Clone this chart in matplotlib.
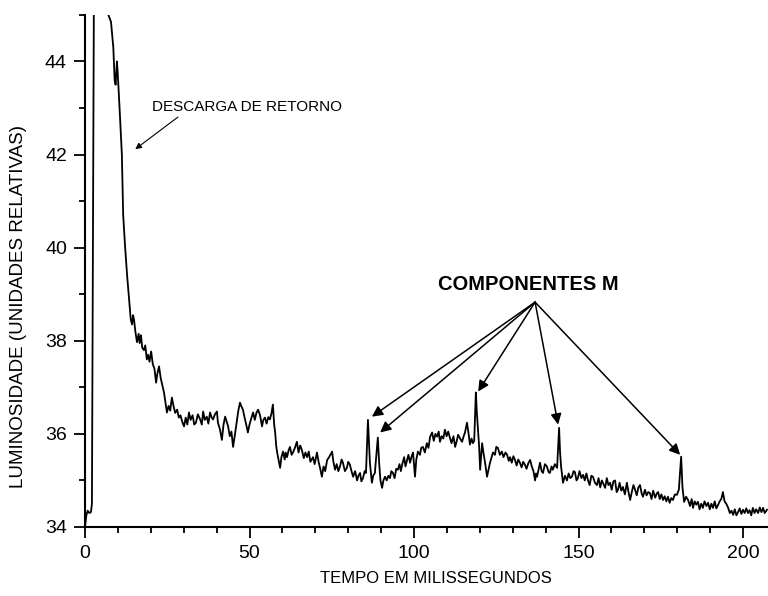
import numpy as np
import matplotlib.pyplot as plt
from matplotlib.ticker import MultipleLocator

plt.rcParams['font.family'] = ['Liberation Sans', 'DejaVu Sans']

# (tempo em ms, luminosidade) - subida e inicio do decaimento da descarga de retorno
subida = [(0.0, 34.0), (0.4, 34.25), (0.8, 34.35), (1.3, 34.3), (1.8, 34.32), (2.1, 34.5),
          (2.4, 40.0), (3.5, 60.0), (7.1, 45.0), (7.9, 44.85), (8.6, 44.3), (9.0, 43.6),
          (9.3, 43.5), (9.7, 44.0), (9.9, 43.8), (10.5, 43.0), (11.2, 42.0), (11.6, 40.7),
          (12.2, 40.0), (12.8, 39.4), (13.4, 38.9)]

decaimento = [(13.9, 38.46), (14.3, 38.35), (14.6, 38.55), (14.9, 38.45), (15.3, 38.2),
              (15.8, 37.97), (16.3, 38.15), (16.6, 37.95), (17.0, 38.12), (17.4, 37.85),
              (17.9, 37.8), (18.3, 37.9), (18.8, 37.6), (19.2, 37.7), (19.6, 37.55),
              (20.1, 37.77), (20.6, 37.5), (21.1, 37.4), (21.6, 37.1), (22.0, 37.3),
              (22.5, 37.45), (23.0, 37.2), (23.5, 37.05), (24.0, 36.89), (24.4, 36.7),
              (24.9, 36.46), (25.4, 36.6), (25.9, 36.5), (26.4, 36.78), (26.9, 36.6),
              (27.4, 36.45), (28.0, 36.52), (28.5, 36.35), (29.0, 36.4), (29.6, 36.25),
              (30.1, 36.16), (30.6, 36.35), (31.1, 36.2), (31.6, 36.46), (32.1, 36.3),
              (32.7, 36.4), (33.2, 36.2), (33.7, 36.24), (34.3, 36.42)]

patamar = [(35.0, 36.31), (35.5, 36.2), (35.9, 36.48), (36.4, 36.3), (37.0, 36.37),
           (37.5, 36.22), (38.0, 36.46), (38.5, 36.35), (38.9, 36.31), (39.5, 36.42),
           (40.1, 36.48), (40.4, 36.24), (41.0, 36.1), (41.6, 35.87), (42.1, 36.2),
           (42.6, 36.37), (43.1, 36.25), (43.5, 36.16), (44.0, 35.95), (44.5, 36.05),
           (45.0, 35.72), (45.6, 36.0), (46.2, 36.31), (46.6, 36.5), (47.1, 36.67),
           (47.6, 36.58), (48.0, 36.52), (48.5, 36.35), (49.0, 36.2), (49.5, 36.03),
           (50.0, 36.2), (50.6, 36.35), (51.1, 36.46), (51.6, 36.3), (52.1, 36.45),
           (52.6, 36.52), (53.2, 36.4), (53.8, 36.16), (54.2, 36.3), (54.7, 36.35),
           (55.2, 36.22), (55.7, 36.36), (56.2, 36.31), (56.7, 36.45), (57.1, 36.63),
           (57.5, 36.2), (57.8, 36.03), (58.1, 35.75), (58.4, 35.6), (58.8, 35.45),
           (59.3, 35.27), (59.7, 35.5), (60.2, 35.62), (60.7, 35.45), (61.0, 35.6),
           (61.4, 35.5), (61.9, 35.65), (62.3, 35.72), (62.8, 35.55), (63.2, 35.6),
           (63.8, 35.7), (64.4, 35.83), (64.9, 35.6), (65.4, 35.75), (65.9, 35.66),
           (66.5, 35.48), (67.0, 35.6), (67.5, 35.5), (68.0, 35.62), (68.5, 35.4)]

meio = [(69.3, 35.5), (69.8, 35.35), (70.5, 35.6), (71.0, 35.4), (71.5, 35.25), (72.0, 35.08),
        (72.5, 35.3), (73.0, 35.2), (73.6, 35.44), (74.2, 35.5), (75.1, 35.62), (75.5, 35.4),
        (76.0, 35.23), (76.5, 35.35), (77.0, 35.2), (77.5, 35.3), (78.0, 35.45), (78.4, 35.38),
        (79.0, 35.2), (79.6, 35.27), (80.0, 35.4), (80.5, 35.34), (81.0, 35.2), (81.5, 35.08),
        (82.1, 35.2), (82.7, 35.0), (83.1, 35.1), (83.6, 35.16), (84.0, 34.98), (84.5, 35.05),
        (85.0, 35.2), (85.4, 35.16), (86.0, 36.3), (86.6, 35.38), (87.2, 34.95), (87.6, 35.1),
        (88.1, 35.16), (89.0, 35.92), (89.4, 35.38), (89.8, 35.0), (90.3, 34.84), (90.7, 35.0),
        (91.2, 35.08), (91.7, 35.0), (92.2, 35.1), (92.7, 35.05), (93.1, 35.2), (93.6, 35.16),
        (94.1, 35.05), (94.6, 35.25), (95.1, 35.23), (95.6, 35.35), (96.0, 35.2), (96.4, 35.34),
        (97.0, 35.5), (97.4, 35.3), (97.9, 35.44), (98.3, 35.55), (98.8, 35.38), (99.2, 35.5),
        (99.7, 35.6), (100.3, 35.08), (100.7, 35.45), (101.2, 35.62), (101.8, 35.55),
        (102.2, 35.7), (102.7, 35.72), (103.3, 35.6), (103.9, 35.8), (104.4, 35.7),
        (104.9, 35.94), (105.5, 36.03), (106.0, 35.85), (106.5, 36.0), (107.0, 35.94),
        (107.5, 36.05), (107.9, 35.83), (108.4, 35.95), (108.9, 35.9), (109.4, 36.09),
        (109.9, 35.95), (110.4, 36.05), (110.9, 35.92), (111.4, 35.8), (112.0, 35.95),
        (112.5, 35.72), (113.0, 35.85), (113.4, 35.98), (114.0, 35.9), (114.6, 35.83),
        (115.1, 35.95), (115.5, 36.03), (116.1, 36.24), (116.6, 36.0), (117.0, 35.77),
        (117.5, 35.9), (117.9, 35.8), (118.3, 35.85)]

cauda = [(118.8, 36.89), (119.1, 36.46), (119.8, 35.72), (120.1, 35.23), (120.7, 35.8),
         (121.1, 35.6), (121.6, 35.38), (122.2, 35.08), (122.7, 35.25), (123.1, 35.38),
         (123.6, 35.5), (124.0, 35.6), (124.6, 35.55), (125.0, 35.72), (125.5, 35.7),
         (126.1, 35.55), (126.7, 35.62), (127.2, 35.5), (127.8, 35.6), (128.3, 35.55),
         (128.8, 35.42), (129.2, 35.5), (129.7, 35.38), (130.2, 35.52), (130.7, 35.44),
         (131.2, 35.32), (131.7, 35.45), (132.2, 35.38), (132.7, 35.28), (133.2, 35.4),
         (133.7, 35.34), (134.2, 35.25), (134.8, 35.38), (135.3, 35.44), (135.8, 35.3),
         (136.3, 35.2), (136.8, 35.0), (137.1, 35.15), (137.4, 35.08), (137.9, 35.25),
         (138.3, 35.38), (138.8, 35.2), (139.2, 35.16), (139.8, 35.35), (140.4, 35.3),
         (140.9, 35.18), (141.3, 35.16), (141.8, 35.3), (142.2, 35.23), (142.8, 35.35),
         (143.5, 35.27), (144.1, 36.13), (144.4, 35.6), (144.7, 35.3), (145.3, 34.95),
         (145.9, 35.1), (146.5, 35.0), (147.0, 35.15), (147.5, 35.05), (148.0, 35.08),
         (148.5, 35.2), (148.9, 35.18), (149.4, 35.0), (149.8, 35.05), (150.3, 35.2),
         (150.9, 35.05), (151.4, 35.12), (151.9, 35.0), (152.4, 35.15), (152.9, 35.0),
         (153.4, 34.9), (153.9, 35.1), (154.4, 35.08), (155.0, 34.95), (155.6, 34.9),
         (156.1, 35.05), (156.6, 34.85), (157.1, 35.0), (157.6, 34.92), (158.1, 34.84),
         (158.6, 35.05), (159.1, 34.9), (159.6, 34.95), (160.1, 34.8), (160.6, 34.98),
         (161.1, 35.0), (161.6, 34.75), (162.0, 34.8), (162.5, 34.95), (163.0, 34.78),
         (163.5, 34.86), (164.1, 34.7), (164.7, 34.95), (165.2, 34.75), (165.7, 34.58),
         (166.2, 34.75), (166.7, 34.9), (167.2, 34.8), (167.7, 34.68), (168.2, 34.85),
         (168.7, 34.9), (169.2, 34.72), (169.6, 34.65), (170.2, 34.8), (170.7, 34.68),
         (171.2, 34.75), (171.7, 34.73), (172.2, 34.6), (172.7, 34.78), (173.3, 34.63),
         (173.8, 34.72), (174.2, 34.75), (174.7, 34.6), (175.2, 34.7), (175.7, 34.58),
         (176.2, 34.66), (176.7, 34.55), (177.2, 34.65), (177.7, 34.52), (178.2, 34.62),
         (178.7, 34.58), (179.3, 34.7), (179.9, 34.69), (180.5, 34.8), (181.2, 35.51),
         (181.6, 34.85), (182.1, 34.54), (182.7, 34.65), (183.3, 34.58), (183.9, 34.45),
         (184.4, 34.6), (184.8, 34.41), (185.3, 34.55), (185.8, 34.48), (186.3, 34.54),
         (186.8, 34.38), (187.3, 34.5), (187.8, 34.41), (188.3, 34.55), (188.9, 34.45),
         (189.4, 34.52), (189.9, 34.38), (190.4, 34.5), (190.9, 34.41), (191.4, 34.55),
         (191.9, 34.4), (192.4, 34.47), (192.9, 34.55), (193.4, 34.6), (193.9, 34.75),
         (194.4, 34.55), (194.9, 34.5), (195.4, 34.43), (196.0, 34.3), (196.5, 34.35),
         (197.0, 34.26), (197.5, 34.38), (198.0, 34.25), (198.5, 34.32), (199.0, 34.4),
         (199.5, 34.28), (200.0, 34.37), (200.5, 34.3), (201.0, 34.4), (201.5, 34.3),
         (202.0, 34.36), (202.5, 34.25), (203.0, 34.41), (203.5, 34.3), (204.0, 34.38),
         (204.6, 34.3), (205.1, 34.42), (205.6, 34.32), (206.1, 34.41), (206.6, 34.3),
         (207.3, 34.37)]

pontos = np.array(subida + decaimento + patamar + meio + cauda)
tempo, lum = pontos[:, 0], pontos[:, 1]

# picos apontados pelas setas
picos_m = [(87.2, 36.37), (89.7, 36.03), (119.5, 36.91), (143.8, 36.2), (180.9, 35.55)]

fig = plt.figure(figsize=(7.68, 5.96), dpi=100)
ax = fig.add_axes([0.1107, 0.1158, 0.8893, 0.8592])
ax.plot(tempo, lum, color='black', lw=1.3)

ax.set_xlim(0, 207.6)
ax.set_ylim(34, 45)
ax.xaxis.set_major_locator(MultipleLocator(50))
ax.xaxis.set_minor_locator(MultipleLocator(10))
ax.yaxis.set_major_locator(MultipleLocator(2))
ax.yaxis.set_minor_locator(MultipleLocator(1))
for lado in ['top', 'right']:
    ax.spines[lado].set_visible(False)
for lado in ['left', 'bottom']:
    ax.spines[lado].set_linewidth(1.5)
ax.tick_params(which='major', direction='out', length=8, width=1.3, labelsize=14, pad=5)
ax.tick_params(which='minor', direction='out', length=4.5, width=1.3)

fig.text(0.568, 0.030, 'TEMPO EM MILISSEGUNDOS', ha='center', va='center', fontsize=12)
fig.text(0.024, 0.486, 'LUMINOSIDADE (UNIDADES RELATIVAS)', rotation=90,
         ha='center', va='center', fontsize=13.5)

ax.text(20.4, 43.03, 'DESCARGA DE RETORNO', fontsize=11, va='center')
ax.annotate('', xy=(14.6, 42.08), xytext=(28.9, 42.84),
            arrowprops=dict(arrowstyle='-|>', color='black', lw=0.8, mutation_scale=9))

ax.text(134.6, 39.21, 'COMPONENTES M', fontsize=14.5, fontweight='bold',
        ha='center', va='center')
for px, py in picos_m:
    ax.annotate('', xy=(px, py), xytext=(136.8, 38.83),
                arrowprops=dict(arrowstyle='-|>', color='black', lw=1.1,
                                mutation_scale=16, shrinkA=0, shrinkB=0))

fig.savefig('out.png', dpi=100)
